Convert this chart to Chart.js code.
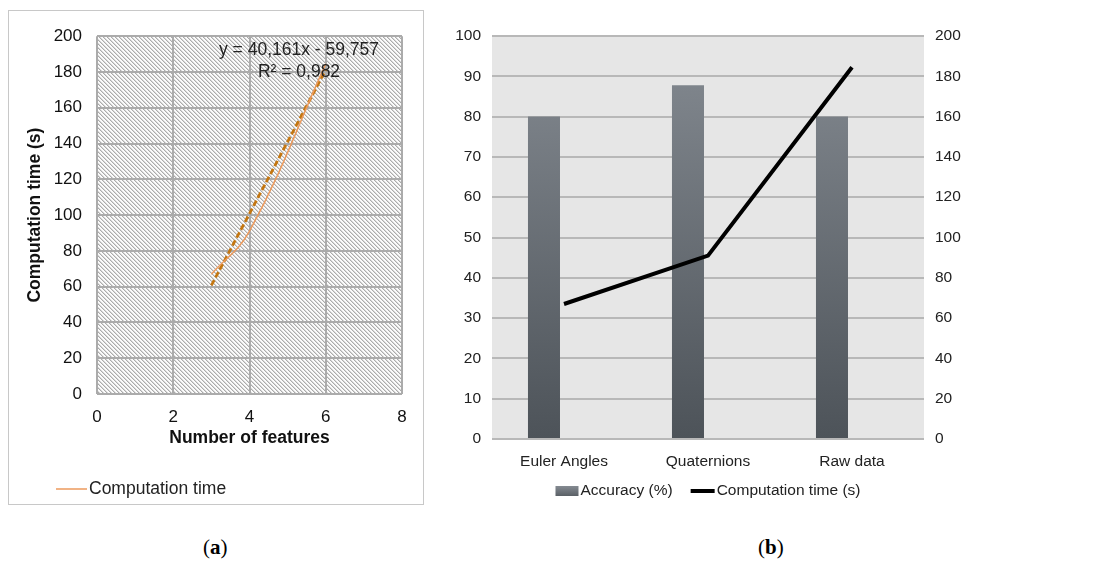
<!DOCTYPE html>
<html>
<head>
<meta charset="utf-8">
<script src="https://cdn.jsdelivr.net/npm/chart.js@4.4.1/dist/chart.umd.min.js"></script>
<style>
    html, body { margin: 0; padding: 0; background: #fff; }
    body { width: 1100px; height: 563px; position: relative; overflow: hidden; font-family: "Liberation Sans", Arial, sans-serif; }
    #boxA { position: absolute; left: 8px; top: 10px; width: 414px; height: 493px; border: 1.5px solid #c8c8c8; }
    #chartA { position: absolute; left: 0; top: 0; }
    #chartB { position: absolute; left: 440px; top: 0; }
    .cap { position: absolute; top: 535px; font-family: "Liberation Serif", "DejaVu Serif", serif; font-size: 21px; color: #000; }
</style>
</head>
<body>
<div id="boxA"><canvas id="chartA" width="414" height="493"></canvas></div>
<canvas id="chartB" width="560" height="520"></canvas>
<div class="cap" style="left:203px">(<b>a</b>)</div>
<div class="cap" style="left:758px">(<b>b</b>)</div>

<script>
    'use strict';

    // (a) computation time vs number of features
    var featureCount = [3, 4, 6];
    var computeTime = [67, 91, 184.5];
    var trendX = [3, 6];
    var trendY = [60.7, 181.2];
    var trendEquation = 'y = 40,161x - 59,757';
    var trendR2 = 'R\u00b2 = 0,982';

    // (b) accuracy and time per representation
    var representations = ['Euler Angles', 'Quaternions', 'Raw data'];
    var accuracy = [80, 87.8, 80];
    var emptySeries = [null, null, null];
    var timeSeconds = [67, 91, 184.5];

    var FONT = '"Liberation Sans", Arial, sans-serif';
    Chart.defaults.font.family = FONT;
    Chart.defaults.font.size = 17;
    Chart.defaults.color = '#222';
    Chart.defaults.animation = false;

    function pairs(xs, ys) {
        var out = [];
        for (var i = 0; i < xs.length; i++) {
            out.push({x: xs[i], y: ys[i]});
        }
        return out;
    }

    // excel style "wide downward diagonal" fill
    function hatchPattern(ctx) {
        var size = 4;
        var tile = document.createElement('canvas');
        tile.width = size;
        tile.height = size;
        var t = tile.getContext('2d');
        t.fillStyle = '#fbfbfb';
        t.fillRect(0, 0, size, size);
        for (var i = 0; i < size; i++) {
            t.fillStyle = '#ababab';
            t.fillRect(i, i, 1, 1);
            t.fillStyle = '#d8d8d8';
            t.fillRect((i + 1) % size, i, 1, 1);
        }
        return ctx.createPattern(tile, 'repeat');
    }

    var plotBackground = {
        id: 'plotBackground',
        beforeDraw: function (chart, args, opts) {
            var a = chart.chartArea;
            var ctx = chart.ctx;
            ctx.save();
            ctx.fillStyle = opts.hatch ? hatchPattern(ctx) : opts.color;
            ctx.fillRect(a.left, a.top, a.right - a.left, a.bottom - a.top);
            ctx.restore();
        }
    };

    function fixSize(w, h) {
        return function (scale) {
            if (w !== undefined) scale.width = w;
            if (h !== undefined) scale.height = h;
        };
    }

    // ---------- chart (a) ----------
    var gridA = {color: '#ababab', lineWidth: 2, drawTicks: false};

    new Chart(document.getElementById('chartA'), {
        type: 'scatter',
        data: {
            datasets: [{
                label: 'Computation time',
                data: pairs(featureCount, computeTime),
                showLine: true,
                borderColor: '#ec9a5c',
                borderWidth: 1.5,
                pointRadius: 0,
                tension: 0.4
            }, {
                label: 'trend',
                data: pairs(trendX, trendY),
                showLine: true,
                borderColor: '#c47610',
                borderWidth: 2.8,
                borderDash: [6, 3],
                pointRadius: 0
            }]
        },
        options: {
            responsive: false,
            layout: {padding: {left: 0, top: 18, right: 21, bottom: 50}},
            plugins: {
                legend: {display: false},
                tooltip: {enabled: false},
                plotBackground: {hatch: true}
            },
            scales: {
                x: {
                    type: 'linear', min: 0, max: 8,
                    ticks: {stepSize: 2, padding: 13, color: '#111'},
                    grid: gridA,
                    border: {display: false},
                    title: {display: true, text: 'Number of features', color: '#111',
                        font: {size: 17.5, weight: 'bold'}, padding: {top: 0, bottom: 5}},
                    afterFit: fixSize(undefined, 60)
                },
                y: {
                    min: 0, max: 200,
                    ticks: {stepSize: 20, padding: 15, color: '#111'},
                    grid: gridA,
                    border: {display: false},
                    title: {display: true, text: 'Computation time (s)', color: '#111',
                        font: {size: 17.5, weight: 'bold'}, padding: {top: 16, bottom: 0}},
                    afterFit: fixSize(88)
                }
            }
        },
        plugins: [plotBackground, {
            id: 'trendLabel',
            afterDraw: function (chart) {
                var ctx = chart.ctx;
                var ds = chart.data.datasets[0];
                ctx.save();
                ctx.font = '17.5px ' + FONT;
                ctx.fillStyle = '#222';
                ctx.textAlign = 'center';
                ctx.textBaseline = 'middle';
                ctx.fillText(trendEquation, 290, 39);
                ctx.fillText(trendR2, 290, 61);
                // legend
                ctx.strokeStyle = ds.borderColor;
                ctx.lineWidth = 1.5;
                ctx.beginPath();
                ctx.moveTo(47, 478);
                ctx.lineTo(78, 478);
                ctx.stroke();
                ctx.textAlign = 'left';
                ctx.fillText(ds.label, 80, 478);
                ctx.restore();
            }
        }]
    });

    // ---------- chart (b) ----------
    function barGradient(context) {
        var chart = context.chart;
        var a = chart.chartArea;
        if (!a) return '#6a7077';
        var g = chart.ctx.createLinearGradient(0, a.top, 0, a.bottom);
        g.addColorStop(0, '#858b92');
        g.addColorStop(1, '#4d5359');
        return g;
    }

    var fontB = {size: 15.5};

    new Chart(document.getElementById('chartB'), {
        type: 'bar',
        data: {
            labels: representations,
            datasets: [{
                type: 'line',
                label: 'Computation time (s)',
                data: timeSeconds,
                yAxisID: 'y2',
                borderColor: '#000',
                backgroundColor: '#000',
                borderWidth: 4,
                pointRadius: 0,
                tension: 0,
                order: 0
            }, {
                label: 'Accuracy (%)',
                data: accuracy,
                yAxisID: 'y',
                backgroundColor: barGradient,
                categoryPercentage: 0.556,
                barPercentage: 0.8,
                order: 1
            }, {
                label: '',
                data: emptySeries,
                yAxisID: 'y',
                categoryPercentage: 0.556,
                barPercentage: 0.8,
                order: 2
            }]
        },
        options: {
            responsive: false,
            layout: {padding: {left: 0, top: 36, right: 0, bottom: 0}},
            plugins: {
                legend: {display: false},
                tooltip: {enabled: false},
                plotBackground: {color: '#e6e6e6'}
            },
            scales: {
                x: {
                    grid: {display: false},
                    border: {display: false},
                    ticks: {padding: 5, color: '#222', font: fontB},
                    afterFit: fixSize(undefined, 81)
                },
                y: {
                    position: 'left',
                    min: 0, max: 100,
                    ticks: {stepSize: 10, padding: 11, color: '#222', font: fontB},
                    grid: {color: '#b8b8b8', lineWidth: 2, drawTicks: false},
                    border: {display: false},
                    afterFit: fixSize(52)
                },
                y2: {
                    position: 'right',
                    min: 0, max: 200,
                    ticks: {stepSize: 20, padding: 11, color: '#222', font: fontB},
                    grid: {display: false, drawTicks: false},
                    border: {display: false},
                    afterFit: fixSize(76)
                }
            }
        },
        plugins: [plotBackground, {
            id: 'legendB',
            afterDraw: function (chart) {
                var ctx = chart.ctx;
                var a = chart.chartArea;
                var bars = chart.data.datasets[1];
                var line = chart.data.datasets[0];
                var y = 491;
                ctx.save();
                ctx.font = '15.5px ' + FONT;
                ctx.textBaseline = 'middle';
                var w1 = 23 + 2 + ctx.measureText(bars.label).width;
                var w2 = 24 + 2 + ctx.measureText(line.label).width;
                var x = (a.left + a.right) / 2 - (w1 + 18 + w2) / 2;
                var g = ctx.createLinearGradient(0, y - 5, 0, y + 5);
                g.addColorStop(0, '#858b92');
                g.addColorStop(1, '#5a6066');
                ctx.fillStyle = g;
                ctx.fillRect(x, y - 5, 23, 10);
                ctx.fillStyle = '#222';
                ctx.fillText(bars.label, x + 25, y);
                x += w1 + 18;
                ctx.strokeStyle = line.borderColor;
                ctx.lineWidth = 4;
                ctx.beginPath();
                ctx.moveTo(x, y);
                ctx.lineTo(x + 24, y);
                ctx.stroke();
                ctx.fillText(line.label, x + 26, y);
                ctx.restore();
            }
        }]
    });
</script>
</body>
</html>
